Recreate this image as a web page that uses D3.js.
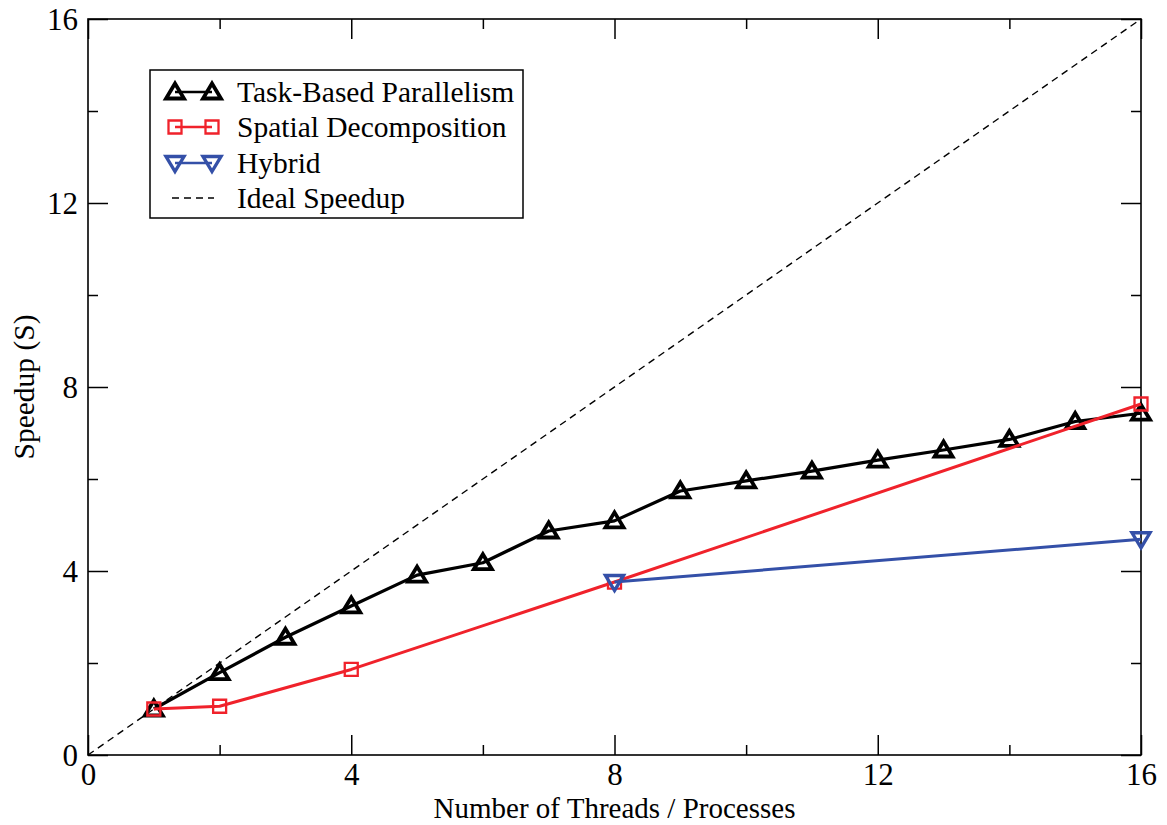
<!DOCTYPE html>
<html>
<head>
<meta charset="utf-8">
<script src="https://cdn.jsdelivr.net/npm/d3@7/dist/d3.min.js"></script>
<style>
  html, body { margin: 0; padding: 0; background: #fff; }
  svg { display: block; font-family: "Liberation Serif", "Times New Roman", serif; }
</style>
</head>
<body>
<svg id="chart" width="1167" height="825"></svg>
<script>
// Speedup measurements per thread/process count
const taskThreads = [1, 2, 3, 4, 5, 6, 7, 8, 9, 10, 11, 12, 13, 14, 15, 16];
const taskSpeedup = [1.0, 1.79, 2.56, 3.24, 3.91, 4.18, 4.87, 5.09, 5.74, 5.96, 6.17, 6.41, 6.63, 6.86, 7.25, 7.43];

const spatialProcs = [1, 2, 4, 8, 16];
const spatialSpeedup = [1.0, 1.06, 1.86, 3.76, 7.63];

const hybridProcs = [8, 16];
const hybridSpeedup = [3.76, 4.69];

const idealX = [0, 16];
const idealY = [0, 16];

const majorTicks = [0, 4, 8, 12, 16];
const minorTicks = [2, 6, 10, 14];

const legendLabels = ["Task-Based Parallelism", "Spatial Decomposition", "Hybrid", "Ideal Speedup"];

const COL_TASK = "#000000";
const COL_SPATIAL = "#f0222b";
const COL_HYBRID = "#3450a8";

const svg = d3.select("#chart");
const plotL = 88, plotR = 1141, plotT = 19, plotB = 755;

const x = d3.scaleLinear().domain([0, 16]).range([plotL, plotR]);
const y = d3.scaleLinear().domain([0, 16]).range([plotB, plotT]);

// Frame with inward ticks on all four sides
const frame = svg.append("g");
const tickLen = { major: 20, minor: 10 };

function sideAxis(axisFn, scale, transform, values, len) {
  const g = frame.append("g").attr("transform", transform)
    .call(axisFn(scale).tickValues(values).tickSize(-len).tickFormat(""));
  g.select(".domain").remove();
  g.selectAll("line").attr("stroke", "#000").attr("stroke-width", 1.5);
  return g;
}
[["major", majorTicks], ["minor", minorTicks]].forEach(([k, vals]) => {
  sideAxis(d3.axisBottom, x, `translate(0,${plotB})`, vals, tickLen[k]);
  sideAxis(d3.axisTop, x, `translate(0,${plotT})`, vals, tickLen[k]);
  sideAxis(d3.axisLeft, y, `translate(${plotL},0)`, vals, tickLen[k]);
  sideAxis(d3.axisRight, y, `translate(${plotR},0)`, vals, tickLen[k]);
});

frame.append("rect")
  .attr("x", plotL).attr("y", plotT)
  .attr("width", plotR - plotL).attr("height", plotB - plotT)
  .attr("fill", "none").attr("stroke", "#000").attr("stroke-width", 1.6);

// Tick labels
const xl = svg.append("g").attr("transform", `translate(0,${plotB})`)
  .call(d3.axisBottom(x).tickValues(majorTicks).tickSize(0).tickPadding(0).tickFormat(d3.format("d")));
xl.select(".domain").remove();
xl.selectAll("text").attr("font-size", 31).attr("font-family", "Liberation Serif")
  .attr("fill", "#000").attr("dy", null).attr("y", 30);

const yl = svg.append("g").attr("transform", `translate(${plotL},0)`)
  .call(d3.axisLeft(y).tickValues(majorTicks).tickSize(0).tickPadding(10).tickFormat(d3.format("d")));
yl.select(".domain").remove();
yl.selectAll("text").attr("font-size", 31).attr("font-family", "Liberation Serif")
  .attr("fill", "#000").attr("dy", "0.34em");

// Axis titles
svg.append("text")
  .attr("x", (plotL + plotR) / 2).attr("y", 818)
  .attr("text-anchor", "middle").attr("font-size", 29)
  .text("Number of Threads / Processes");

svg.append("text")
  .attr("transform", `translate(34,${(plotT + plotB) / 2}) rotate(-90)`)
  .attr("text-anchor", "middle").attr("font-size", 29.5)
  .text("Speedup (S)");

// Marker shapes
const triUp = "M0,-8.5L9,6.5L-9,6.5Z";
const triDown = "M0,8.5L9,-6.5L-9,-6.5Z";
const square = "M-6.5,-6.5H6.5V6.5H-6.5Z";

const plot = svg.append("g");

// Ideal speedup reference
plot.append("path")
  .datum(idealX.map((v, i) => [v, idealY[i]]))
  .attr("d", d3.line().x(d => x(d[0])).y(d => y(d[1])))
  .attr("fill", "none").attr("stroke", "#000").attr("stroke-width", 1.4)
  .attr("stroke-dasharray", "7,5");

function series(xs, ys, color, lw, shape, sw) {
  const pts = xs.map((v, i) => [v, ys[i]]);
  plot.append("path").datum(pts)
    .attr("d", d3.line().x(d => x(d[0])).y(d => y(d[1])))
    .attr("fill", "none").attr("stroke", color).attr("stroke-width", lw)
    .attr("stroke-linejoin", "round");
  plot.selectAll(null).data(pts).enter().append("path")
    .attr("transform", d => `translate(${x(d[0])},${y(d[1])})`)
    .attr("d", shape)
    .attr("fill", "none").attr("stroke", color).attr("stroke-width", sw)
    .attr("stroke-linejoin", "miter");
}

series(taskThreads, taskSpeedup, COL_TASK, 3.2, triUp, 3.8);
series(spatialProcs, spatialSpeedup, COL_SPATIAL, 3, square, 2.3);
series(hybridProcs, hybridSpeedup, COL_HYBRID, 3, triDown, 3.4);

// Legend
const lg = svg.append("g");
lg.append("rect").attr("x", 150).attr("y", 70).attr("width", 373).attr("height", 148)
  .attr("fill", "#fff").attr("stroke", "#000").attr("stroke-width", 1.5);

const legendRows = [
  { label: legendLabels[0], color: COL_TASK, shape: triUp, sw: 3.8, dash: null },
  { label: legendLabels[1], color: COL_SPATIAL, shape: square, sw: 2.3, dash: null },
  { label: legendLabels[2], color: COL_HYBRID, shape: triDown, sw: 3.4, dash: null },
  { label: legendLabels[3], color: "#000", shape: null, sw: 0, dash: "7,5" }
];
const rowY = [92, 127, 163, 198];
legendRows.forEach((r, i) => {
  const cy = rowY[i];
  lg.append("line").attr("x1", r.shape ? 175 : 172).attr("x2", r.shape ? 212 : 214)
    .attr("y1", cy).attr("y2", cy)
    .attr("stroke", r.color).attr("stroke-width", r.shape ? 2.5 : 1.4)
    .attr("stroke-dasharray", r.dash);
  if (r.shape) {
    [175, 212].forEach(cx => {
      lg.append("path").attr("transform", `translate(${cx},${cy})`)
        .attr("d", r.shape).attr("fill", "none")
        .attr("stroke", r.color).attr("stroke-width", r.sw);
    });
  }
  lg.append("text").attr("x", 237).attr("y", cy).attr("dy", "0.35em")
    .attr("font-size", 29.5).text(r.label);
});
</script>
</body>
</html>
